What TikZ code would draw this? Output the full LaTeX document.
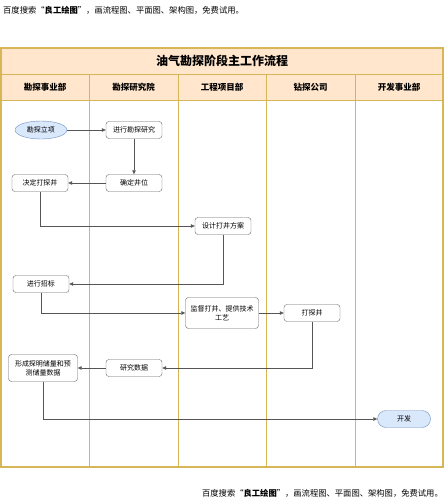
\documentclass[tikz,border=0pt]{standalone}
\usepackage{fontspec}
\setmainfont{Noto Sans CJK SC}
\usetikzlibrary{positioning,arrows.meta,shapes.geometric,shapes.misc}
\tikzset{>={Triangle[length=4pt,width=3.5pt]}}

\definecolor{lanegold}{HTML}{D6B656}
\definecolor{headfill}{HTML}{FFE6CC}
\definecolor{termfill}{HTML}{DAE8FC}
\definecolor{termline}{HTML}{6C8EBF}
\definecolor{boxline}{HTML}{666666}
\definecolor{flowline}{HTML}{555555}

\tikzset{
  task/.style={draw=boxline,fill=white,rounded corners=3pt,minimum width=56pt,
    minimum height=17pt,inner sep=1pt,align=center,font=\fontsize{7}{9}\selectfont},
  term/.style={draw=termline,fill=termfill,inner sep=1pt,font=\fontsize{7}{9}\selectfont},
  flow/.style={draw=flowline,line width=0.6pt,->},
  lanehead/.style={font=\fontsize{8.5}{10}\selectfont\bfseries},
  wmtext/.style={inner sep=0pt,font=\fontsize{8.3}{10}\selectfont}
}

\begin{document}
\begin{tikzpicture}[x=1pt,y=-1pt]
\useasboundingbox (0,0) rectangle (445,503);

% Watermarks
\node[wmtext,anchor=west] (wmtop) at (3,10) {百度搜索“\textbf{良工绘图}”，画流程图、平面图、架构图，免费试用。};
\node[wmtext,anchor=east] (wmbot) at (443,493) {百度搜索“\textbf{良工绘图}”，画流程图、平面图、架构图，免费试用。};

% Pool and lanes
\draw[lanegold,line width=1pt,fill=headfill] (1,48) rectangle (443,100);
\draw[lanegold,line width=1pt] (1,74) -- (443,74);
\foreach \x in {89,178,266,355}
  \draw[lanegold,line width=1pt] (\x,74) -- (\x,467);
\draw[lanegold,line width=1.2pt] (1,48) rectangle (443,467);

\node[font=\fontsize{12}{14}\selectfont\bfseries] (title) at (222,61) {油气勘探阶段主工作流程};
\foreach \lname/\x in {勘探事业部/45,勘探研究院/133.5,工程项目部/222,钻探公司/310.5,开发事业部/399}
  \node[lanehead] at (\x,87) {\lname};

% Tasks
\node[term,ellipse,minimum width=52pt,minimum height=18pt] (lixiang) at (41,130) {勘探立项};
\node[task] (yanjiu) at (134,130) {进行勘探研究};
\node[task] (jingwei) at (134,183) {确定井位};
\node[task] (jueding) at (40,183) {决定打探井};
\node[task] (fangan) at (223,226) {设计打井方案};
\node[task] (zhaobiao) at (41,284) {进行招标};
\node[task,minimum width=73pt,minimum height=31pt] (jiandu) at (222,313) {监督打井、提供技术\\工艺};
\node[task] (dajing) at (312,313) {打探井};
\node[task] (shuju) at (134,368) {研究数据};
\node[task,minimum width=69pt,minimum height=27pt] (chuliang) at (43,368) {形成探明储量和预\\测储量数据};
\node[term,rounded rectangle,minimum width=55pt,minimum height=17pt] (kaifa) at (404,419) {开发};

% Connectors
\draw[flow] (lixiang) -- (yanjiu);
\draw[flow] (yanjiu) -- (jingwei);
\draw[flow] (jingwei) -- (jueding);
\draw[flow] (jueding) |- (fangan);
\draw[flow] (fangan) |- (zhaobiao);
\draw[flow] (zhaobiao) |- (jiandu);
\draw[flow] (jiandu) -- (dajing);
\draw[flow] (dajing) |- (shuju);
\draw[flow] (shuju) -- (chuliang);
\draw[flow] (chuliang) |- (kaifa);

\end{tikzpicture}
\end{document}
